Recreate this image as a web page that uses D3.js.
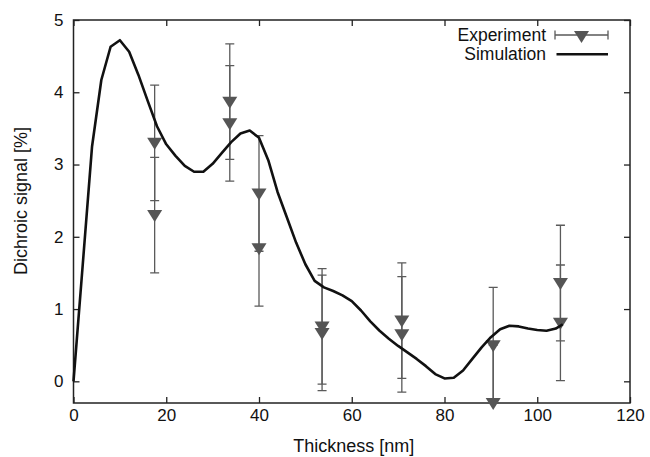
<!DOCTYPE html>
<html>
<head>
<meta charset="utf-8">
<script src="https://cdn.jsdelivr.net/npm/d3@7"></script>
<style>
  body { margin: 0; background: #fff; }
  text { font-family: 'Liberation Sans', Arial, sans-serif; fill: #111; }
  .tick text { font-size: 17px; }
  .axis-label { font-size: 18px; }
  .legend text { font-size: 17.5px; }
</style>
</head>
<body>
<svg id="chart-svg"></svg>
<script>
// Experiment: thickness [nm], dichroic signal [%], error bar half-height
const expX = [17.5, 17.5, 33.7, 33.7, 40, 40, 53.6, 53.6, 70.8, 70.8, 90.5, 90.5, 105, 105];
const expY = [3.3, 2.3, 3.87, 3.57, 2.6, 1.84, 0.76, 0.67, 0.84, 0.65, 0.5, -0.3, 1.36, 0.81];
const expErr = [0.8, 0.8, 0.8, 0.8, 0.8, 0.8, 0.8, 0.8, 0.8, 0.8, 0.8, 0.8, 0.8, 0.8];

// Simulation curve
const simX = [0, 2, 4, 6, 8, 10, 12, 14, 16, 18, 20, 22, 24, 26, 28, 30, 32, 34, 36, 38,
  40, 42, 44, 46, 48, 50, 52, 54, 56, 58, 60, 62, 64, 66, 68, 70, 72, 74, 76, 78,
  80, 82, 84, 86, 88, 90, 92, 94, 96, 98, 100, 102, 104, 105.5];
const simY = [0, 1.62, 3.25, 4.17, 4.63, 4.72, 4.56, 4.24, 3.88, 3.53, 3.28, 3.12, 2.98, 2.9, 2.9, 3.01, 3.16, 3.31, 3.43, 3.47,
  3.37, 3.06, 2.62, 2.27, 1.92, 1.62, 1.39, 1.3, 1.25, 1.19, 1.11, 0.98, 0.83, 0.7, 0.59, 0.49, 0.4, 0.31, 0.21, 0.1,
  0.04, 0.05, 0.15, 0.31, 0.47, 0.61, 0.72, 0.77, 0.76, 0.73, 0.71, 0.7, 0.73, 0.79];

const xTicks = [0, 20, 40, 60, 80, 100, 120];
const yTicks = [0, 1, 2, 3, 4, 5];

const WIDTH = 650;
const HEIGHT = 457;
const plot = { left: 73.5, right: 630, top: 20, bottom: 403 };

const svg = d3.select('#chart-svg').attr('width', WIDTH).attr('height', HEIGHT);

const xScale = d3.scaleLinear().domain([0, 120]).range([plot.left, plot.right]);
const yScale = d3.scaleLinear().domain([-0.3, 5]).range([plot.bottom, plot.top]);

/**
 * Draws the ticks on all four sides (gnuplot style, inward) and the labels
 */
function addAxes() {
  const fmt = d3.format('d');
  svg.append('g')
    .attr('transform', 'translate(0,' + plot.bottom + ')')
    .call(d3.axisBottom(xScale).tickValues(xTicks).tickFormat(fmt).tickSize(-6).tickPadding(6));
  svg.append('g')
    .attr('transform', 'translate(0,' + plot.top + ')')
    .call(d3.axisTop(xScale).tickValues(xTicks).tickSize(-6).tickFormat(''));
  svg.append('g')
    .attr('transform', 'translate(' + plot.left + ',0)')
    .call(d3.axisLeft(yScale).tickValues(yTicks).tickFormat(fmt).tickSize(-6).tickPadding(10));
  svg.append('g')
    .attr('transform', 'translate(' + plot.right + ',0)')
    .call(d3.axisRight(yScale).tickValues(yTicks).tickSize(-6).tickFormat(''));

  svg.selectAll('.domain').remove();
  svg.selectAll('.tick line').attr('stroke', '#222').attr('stroke-width', 1.3);
  svg.selectAll('.tick text').attr('fill', '#111');

  // frame
  svg.append('rect')
    .attr('x', plot.left)
    .attr('y', plot.top)
    .attr('width', plot.right - plot.left)
    .attr('height', plot.bottom - plot.top)
    .attr('fill', 'none')
    .attr('stroke', '#222')
    .attr('stroke-width', 1.5);

  svg.append('text')
    .attr('class', 'axis-label')
    .attr('x', (plot.left + plot.right) / 2 + 2)
    .attr('y', 452)
    .attr('text-anchor', 'middle')
    .text('Thickness [nm]');
  svg.append('text')
    .attr('class', 'axis-label')
    .attr('transform', 'translate(27,201) rotate(-90)')
    .attr('text-anchor', 'middle')
    .text('Dichroic signal [%]');
}

/**
 * Downward triangle marker path centred on (0,0)
 */
function triangle() {
  return 'M-7.5,-5L7.5,-5L0,7Z';
}

/**
 * Draws the experimental error bars and markers
 */
function drawExperiment() {
  svg.append('clipPath')
    .attr('id', 'plot-clip')
    .append('rect')
    .attr('x', plot.left)
    .attr('y', plot.top)
    .attr('width', plot.right - plot.left)
    .attr('height', plot.bottom - plot.top);

  const idx = d3.range(expX.length);
  const bars = svg.append('g')
    .attr('clip-path', 'url(#plot-clip)')
    .attr('stroke', '#5a5a5a')
    .attr('stroke-width', 1.3);

  bars.selectAll('.err')
    .data(idx)
    .enter()
    .append('path')
    .attr('fill', 'none')
    .attr('d', (i) => {
      const x = xScale(expX[i]);
      const y1 = yScale(expY[i] - expErr[i]);
      const y2 = yScale(expY[i] + expErr[i]);
      return 'M' + x + ',' + y1 + 'V' + y2 +
        'M' + (x - 4.5) + ',' + y1 + 'H' + (x + 4.5) +
        'M' + (x - 4.5) + ',' + y2 + 'H' + (x + 4.5);
    });

  svg.append('g')
    .selectAll('path')
    .data(idx)
    .enter()
    .append('path')
    .attr('d', triangle())
    .attr('fill', '#555')
    .attr('transform', (i) => 'translate(' + xScale(expX[i]) + ',' + yScale(expY[i]) + ')');
}

/**
 * Draws the simulated curve
 */
function drawSimulation() {
  const line = d3.line()
    .x((i) => xScale(simX[i]))
    .y((i) => yScale(simY[i]));
  svg.append('path')
    .attr('d', line(d3.range(simX.length)))
    .attr('fill', 'none')
    .attr('stroke', '#111')
    .attr('stroke-width', 2.6)
    .attr('stroke-linejoin', 'round');
}

/**
 * Adds the legend in the top right corner
 */
function addLegend() {
  const g = svg.append('g').attr('class', 'legend');
  g.append('text').attr('x', 546).attr('y', 41).attr('text-anchor', 'end').text('Experiment');
  g.append('text').attr('x', 546).attr('y', 60).attr('text-anchor', 'end').text('Simulation');

  g.append('path')
    .attr('d', 'M555,35H608M555,30.5V39.5M608,30.5V39.5')
    .attr('stroke', '#5a5a5a')
    .attr('stroke-width', 1.3)
    .attr('fill', 'none');
  g.append('path')
    .attr('d', triangle())
    .attr('fill', '#555')
    .attr('transform', 'translate(581.5,36)');
  g.append('path')
    .attr('d', 'M556.5,54.3H608')
    .attr('stroke', '#111')
    .attr('stroke-width', 2.6);
}

addAxes();
drawExperiment();
drawSimulation();
addLegend();
</script>
</body>
</html>
